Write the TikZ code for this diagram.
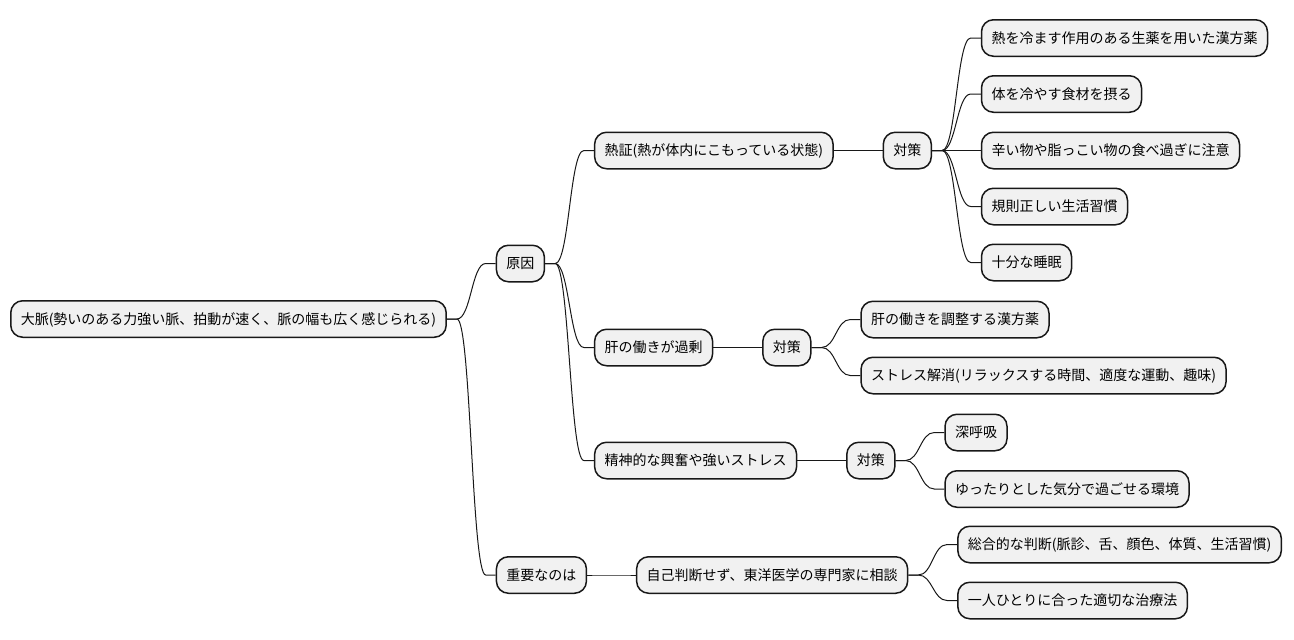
\documentclass[tikz,border=0pt]{standalone}
\usepackage{fontspec}
\setmainfont{Noto Sans CJK JP}
\usetikzlibrary{calc}
\definecolor{cline}{HTML}{181818}
\definecolor{cfill}{HTML}{F1F1F1}
\tikzset{
  mmbox/.style={draw=cline, fill=cfill, line width=1.5pt, rounded corners=12pt,
    inner xsep=10pt, inner ysep=0pt, minimum height=36.5pt,
    text height=12pt, text depth=1.4pt, font=\fontsize{14}{16}\selectfont, anchor=west},
  mmline/.style={draw=cline, line width=1pt}
}
\newcommand\mmkid[4]{%
  \path (#1.east) ++(48.7,0) coordinate (#2-a);
  \node[mmbox] (#2) at (#2-a |- 0,#3) {#4};
  \draw[mmline] (#1.east) -- ++(10,0) coordinate (#2-b)
    .. controls ($(#2-b)+(14,0)$) and ($(#2.west)+(-24,0)$) .. ($(#2.west)+(-10,0)$)
    -- (#2.west);
}
\begin{document}
\begin{tikzpicture}[x=1pt,y=-1pt]
\useasboundingbox (0,0) rectangle (1294,640);
\node[mmbox] (root) at (10,319) {大脈(勢いのある力強い脈、拍動が速く、脈の幅も広く感じられる)};
\mmkid{root}{gen}{263.5}{原因}
\mmkid{gen}{netsu}{150.5}{熱証(熱が体内にこもっている状態)}
\mmkid{netsu}{t1}{150.5}{対策}
\mmkid{t1}{l11}{38}{熱を冷ます作用のある生薬を用いた漢方薬}
\mmkid{t1}{l12}{94}{体を冷やす食材を摂る}
\mmkid{t1}{l13}{150.5}{辛い物や脂っこい物の食べ過ぎに注意}
\mmkid{t1}{l14}{206.5}{規則正しい生活習慣}
\mmkid{t1}{l15}{262.5}{十分な睡眠}
\mmkid{gen}{kan}{347.5}{肝の働きが過剰}
\mmkid{kan}{t2}{347.5}{対策}
\mmkid{t2}{l21}{319.5}{肝の働きを調整する漢方薬}
\mmkid{t2}{l22}{375.5}{ストレス解消(リラックスする時間、適度な運動、趣味)}
\mmkid{gen}{sei}{460.5}{精神的な興奮や強いストレス}
\mmkid{sei}{t3}{460.5}{対策}
\mmkid{t3}{l31}{432.5}{深呼吸}
\mmkid{t3}{l32}{489}{ゆったりとした気分で過ごせる環境}
\mmkid{root}{juu}{575}{重要なのは}
\mmkid{juu}{jiko}{575}{自己判断せず、東洋医学の専門家に相談}
\mmkid{jiko}{l41}{544.5}{総合的な判断(脈診、舌、顔色、体質、生活習慣)}
\mmkid{jiko}{l42}{600.5}{一人ひとりに合った適切な治療法}
\end{tikzpicture}
\end{document}
